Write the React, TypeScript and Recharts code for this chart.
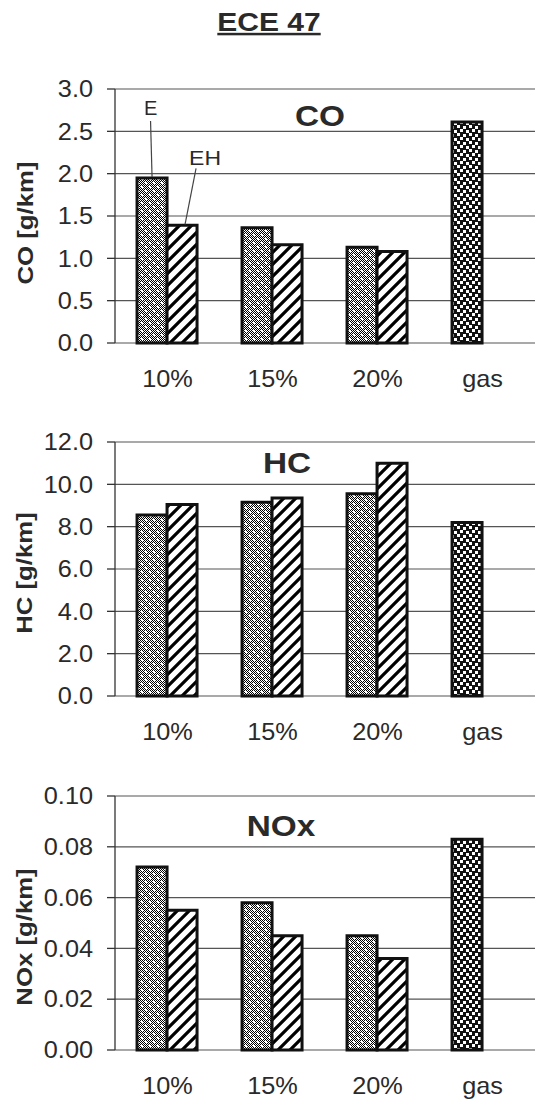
import React from 'react';
import { BarChart, Bar, XAxis, YAxis, CartesianGrid, Cell, LabelList } from 'recharts';

const categories = ['10%', '15%', '20%', 'gas'];

// CO [g/km]
const coE = [1.95, 1.36, 1.13, 2.61];
const coEH = [1.39, 1.16, 1.08, null];
const coTicks = [0, 0.5, 1, 1.5, 2, 2.5, 3];

// HC [g/km]
const hcE = [8.55, 9.15, 9.55, 8.2];
const hcEH = [9.05, 9.35, 11.0, null];
const hcTicks = [0, 2, 4, 6, 8, 10, 12];

// NOx [g/km]
const noxE = [0.072, 0.058, 0.045, 0.083];
const noxEH = [0.055, 0.045, 0.036, null];
const noxTicks = [0, 0.02, 0.04, 0.06, 0.08, 0.1];

const FONT = '"Liberation Sans", Arial, sans-serif';
const INK = '#2a2a2a';

function Patterns() {
    const checker = [];
    for (let y = 0; y < 8; y++) {
        for (let x = 0; x < 8; x++) {
            if ((x + y) % 2 === 0) checker.push(<rect key={`c${x}-${y}`} x={x} y={y} width={1} height={1} fill="#000" />);
        }
    }
    return (
        <svg width={0} height={0} style={{ position: 'absolute' }}>
            <defs>
                <pattern id="patE" width={8} height={8} patternUnits="userSpaceOnUse">
                    <rect width={8} height={8} fill="#fff" />
                    {checker}
                    <rect x={1} y={1} width={2} height={2} fill="#fff" />
                    <rect x={5} y={5} width={2} height={2} fill="#fff" />
                </pattern>
                <pattern id="patEH" width={12} height={12} patternUnits="userSpaceOnUse">
                    <rect width={12} height={12} fill="#fff" />
                    <path d="M-3,3 L3,-3 M0,12 L12,0 M9,15 L15,9" stroke="#000" strokeWidth={3.2} />
                </pattern>
                <pattern id="patGas" width={12} height={8} patternUnits="userSpaceOnUse">
                    <rect width={12} height={8} fill="#111" />
                    <rect x={1} y={0} width={3} height={3} fill="#fff" />
                    <rect x={7} y={1} width={3} height={3} fill="#fff" />
                    <rect x={4} y={4} width={3} height={3} fill="#fff" />
                    <rect x={10} y={5} width={3} height={3} fill="#fff" />
                    <rect x={-2} y={5} width={3} height={3} fill="#fff" />
                </pattern>
            </defs>
        </svg>
    );
}

const CatTick = (props: any) => {
    const { x, y, payload } = props;
    return (
        <g transform={`translate(${x},${y}) scale(1.1,1)`}>
            <text x={0} y={0} dy="0.71em" textAnchor="middle" fontFamily={FONT} fontSize={23} fill={INK}>
                {payload.value}
            </text>
        </g>
    );
};

const makeValTick = (decimals: number) => (props: any) => {
    const { x, y, payload } = props;
    return (
        <g transform={`translate(${x},${y}) scale(1.1,1)`}>
            <text x={0} y={0} dy="0.355em" textAnchor="end" fontFamily={FONT} fontSize={23} fill={INK}>
                {Number(payload.value).toFixed(decimals)}
            </text>
        </g>
    );
};

// leader-line callouts on the first CO group
const calloutE = (props: any) => {
    if (props.index !== 0) return null;
    const vb = props.viewBox || props;
    const x = props.x ?? vb.x;
    const y = props.y ?? vb.y;
    const w = props.width ?? vb.width;
    const cx = x + w / 2;
    return (
        <g>
            <line x1={cx - 1.5} y1={y - 57} x2={cx} y2={y - 1} stroke="#444" strokeWidth={1.2} />
            <text x={cx - 1.5} y={y - 63} textAnchor="middle" fontFamily={FONT} fontSize={20} fill={INK}>E</text>
        </g>
    );
};

const calloutEH = (props: any) => {
    if (props.index !== 0) return null;
    const vb = props.viewBox || props;
    const x = props.x ?? vb.x;
    const y = props.y ?? vb.y;
    return (
        <g>
            <line x1={x + 18} y1={y - 1} x2={x + 29} y2={y - 57} stroke="#444" strokeWidth={1.2} />
            <g transform={`translate(${x + 22},${y - 60}) scale(1.15,1)`}>
                <text x={0} y={0} fontFamily={FONT} fontSize={20} fill={INK}>EH</text>
            </g>
        </g>
    );
};

function EmissionChart({ top, e, eh, ticks, decimals, annotate }: any) {
    const data = categories.map((name, i) => ({ name, E: e[i], EH: eh[i] }));
    return (
        <div style={{ position: 'absolute', left: 0, top }}>
            <BarChart
                width={536}
                height={330}
                data={data}
                margin={{ top: 20, right: 1, bottom: 6, left: 0 }}
                barCategoryGap="21%"
                barGap={0}
            >
                <CartesianGrid vertical={false} stroke="#555" strokeWidth={1.2} />
                <XAxis
                    xAxisId="bounds"
                    type="number"
                    domain={[0, categories.length]}
                    ticks={[0, 1, 2, 3, 4]}
                    tick={false}
                    height={0}
                    tickSize={7}
                    axisLine={{ stroke: '#333', strokeWidth: 1.3 }}
                    tickLine={{ stroke: '#333', strokeWidth: 1.3 }}
                />
                <XAxis
                    dataKey="name"
                    height={50}
                    axisLine={false}
                    tickLine={false}
                    tickSize={0}
                    tickMargin={28}
                    tick={CatTick}
                />
                <YAxis
                    width={115}
                    domain={[ticks[0], ticks[ticks.length - 1]]}
                    ticks={ticks}
                    interval={0}
                    tickSize={8}
                    tickMargin={14}
                    axisLine={{ stroke: '#333', strokeWidth: 1.3 }}
                    tickLine={{ stroke: '#333', strokeWidth: 1.3 }}
                    tick={makeValTick(decimals)}
                />
                <Bar dataKey="E" fill="url(#patE)" stroke="#111" strokeWidth={3} isAnimationActive={false}>
                    {data.map((d, i) => (
                        <Cell key={`e-${i}`} fill={d.name === 'gas' ? 'url(#patGas)' : 'url(#patE)'} />
                    ))}
                    {annotate && <LabelList dataKey="E" content={calloutE} />}
                </Bar>
                <Bar dataKey="EH" fill="url(#patEH)" stroke="#111" strokeWidth={3} isAnimationActive={false}>
                    {annotate && <LabelList dataKey="EH" content={calloutEH} />}
                </Bar>
            </BarChart>
        </div>
    );
}

function Texts() {
    const yLabel = (text: string, x: number, y: number) => (
        <g transform={`translate(${x},${y}) rotate(-90) scale(1.12,1)`}>
            <text x={0} y={0} textAnchor="middle" fontFamily={FONT} fontSize={23} fontWeight="bold" fill={INK}>{text}</text>
        </g>
    );
    const title = (text: string, x: number, y: number) => (
        <g transform={`translate(${x},${y}) scale(1.15,1)`}>
            <text x={0} y={0} textAnchor="middle" fontFamily={FONT} fontSize={29} fontWeight="bold" fill={INK}>{text}</text>
        </g>
    );
    return (
        <svg width={536} height={1101} style={{ position: 'absolute', left: 0, top: 0, pointerEvents: 'none' }}>
            <g transform="translate(269,31) scale(1.2,1)">
                <text x={0} y={0} textAnchor="middle" fontFamily={FONT} fontSize={25} fontWeight="bold" fill={INK}
                    style={{ textDecoration: 'underline' }}>ECE 47</text>
            </g>
            {title('CO', 320, 126)}
            {title('HC', 287, 473)}
            {title('NOx', 281, 836)}
            {yLabel('CO [g/km]', 33, 223)}
            {yLabel('HC [g/km]', 32, 573)}
            {yLabel('NOx [g/km]', 32, 937)}
        </svg>
    );
}

export default function App() {
    return (
        <div style={{ position: 'absolute', left: 0, top: 0, width: 536, height: 1101, background: '#fff', overflow: 'hidden' }}>
            <Patterns />
            <EmissionChart top={69} e={coE} eh={coEH} ticks={coTicks} decimals={1} annotate />
            <EmissionChart top={422} e={hcE} eh={hcEH} ticks={hcTicks} decimals={1} />
            <EmissionChart top={776} e={noxE} eh={noxEH} ticks={noxTicks} decimals={2} />
            <Texts />
        </div>
    );
}
